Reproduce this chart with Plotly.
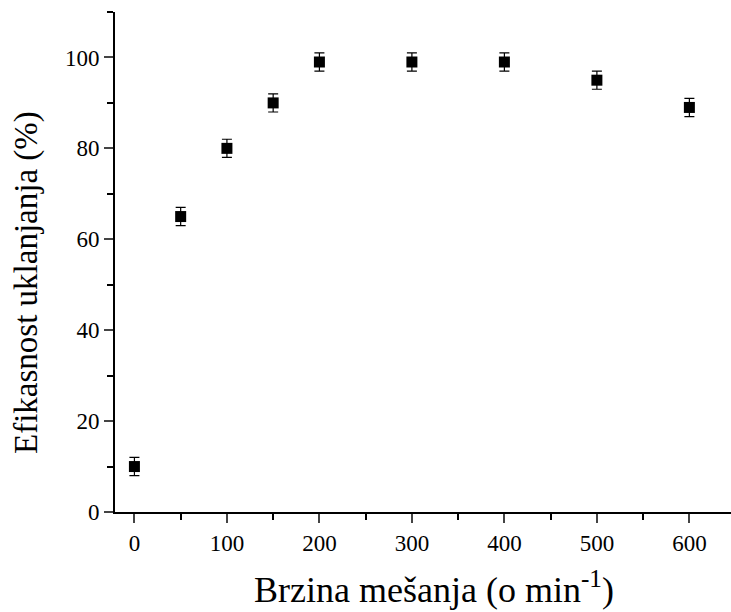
import plotly.graph_objects as go

speed = [0, 50, 100, 150, 200, 300, 400, 500, 600]
efficiency = [10, 65, 80, 90, 99, 99, 99, 95, 89]
error = [2, 2, 2, 2, 2, 2, 2, 2, 2]

x_ticks = [0, 100, 200, 300, 400, 500, 600]
y_ticks = [0, 20, 40, 60, 80, 100]

x_title = "Brzina mešanja (o min<sup>-1</sup>)"
y_title = "Efikasnost uklanjanja (%)"

font_family = "Liberation Serif"

fig = go.Figure()
fig.add_trace(go.Scatter(
    x=speed, y=efficiency, mode="markers",
    marker=dict(symbol="square", size=11, color="black"),
    error_y=dict(type="data", array=error, visible=True, color="black", thickness=1.2, width=5),
    showlegend=False,
))

fig.update_layout(
    width=731, height=612,
    margin=dict(l=115, r=0, t=12, b=100),
    plot_bgcolor="white", paper_bgcolor="white",
    font=dict(family=font_family, color="black", size=23),
)
fig.update_xaxes(
    range=[-21, 645], tickvals=x_ticks, ticks="outside", ticklen=9, tickwidth=2,
    showline=True, linecolor="black", linewidth=2, showgrid=False, zeroline=False,
    automargin=False,
    tickfont=dict(size=23, family=font_family),
    minor=dict(tickvals=[50, 150, 250, 350, 450, 550], ticks="outside", ticklen=6, tickwidth=2, tickcolor="black"),
)
fig.update_yaxes(
    range=[0, 110], tickvals=y_ticks, ticks="outside", ticklen=9, tickwidth=2,
    showline=True, linecolor="black", linewidth=2, showgrid=False, zeroline=False,
    automargin=False,
    tickfont=dict(size=23, family=font_family),
    minor=dict(tickvals=[10, 30, 50, 70, 90, 110], ticks="outside", ticklen=6, tickwidth=2, tickcolor="black"),
)

fig.add_annotation(
    text=x_title, xref="paper", yref="paper", x=0.518, y=-0.15,
    xanchor="center", yanchor="middle", showarrow=False,
    font=dict(size=36, family=font_family, color="black"),
)
fig.add_annotation(
    text=y_title, xref="paper", yref="paper", x=-0.1445, y=0.46,
    xanchor="center", yanchor="middle", showarrow=False, textangle=-90,
    font=dict(size=33, family=font_family, color="black"),
)

fig.write_html("out.html", post_script="document.body.style.margin='0';",
               config={"displayModeBar": False})
